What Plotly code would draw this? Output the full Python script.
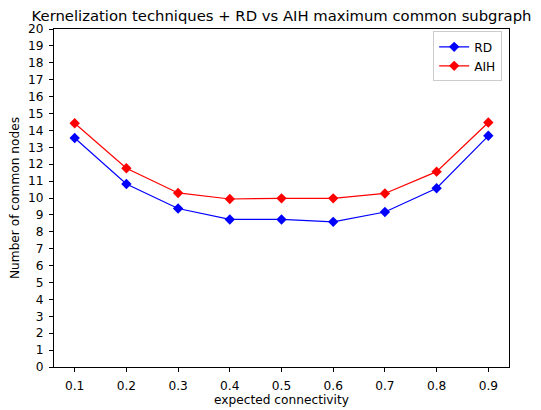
import plotly.graph_objects as go

connectivity = [0.1, 0.2, 0.3, 0.4, 0.5, 0.6, 0.7, 0.8, 0.9]
rd_nodes = [13.55, 10.83, 9.38, 8.73, 8.73, 8.59, 9.17, 10.58, 13.68]
aih_nodes = [14.42, 11.76, 10.30, 9.94, 9.98, 9.98, 10.27, 11.56, 14.47]
y_ticks = list(range(0, 21))
x_ticks = connectivity

FONT = "DejaVu Sans"
FS = 12.2
# the page body adds an 8px offset, so the figure is sized to fit the window
W, H = 533, 402
L, R, T, B = 46, 32, 21, 43

fig = go.Figure()
fig.add_trace(go.Scatter(
    x=connectivity, y=rd_nodes, name="RD", mode="lines+markers",
    line=dict(color="blue", width=1.2),
    marker=dict(symbol="diamond", size=8, color="blue"),
))
fig.add_trace(go.Scatter(
    x=connectivity, y=aih_nodes, name="AIH", mode="lines+markers",
    line=dict(color="red", width=1.2),
    marker=dict(symbol="diamond", size=8, color="red"),
))

axis_common = dict(
    showgrid=False, zeroline=False, showline=True, linecolor="black",
    linewidth=1, mirror=True, ticks="outside", ticklen=4, tickwidth=1,
    tickcolor="black", tickfont=dict(family=FONT, size=FS, color="black"),
    automargin=False,
)

fig.update_layout(
    width=W, height=H,
    margin=dict(l=L, r=R, t=T, b=B),
    paper_bgcolor="white", plot_bgcolor="white",
    font=dict(family=FONT, color="black"),
    title=dict(
        text="Kernelization techniques + RD vs AIH maximum common subgraph",
        x=(L + (W - R)) / 2 / W, xanchor="center", y=1 - 7.5 / H, yanchor="middle",
        font=dict(family=FONT, size=14.8, color="black"),
        automargin=False,
    ),
    xaxis=dict(
        range=[0.06, 0.94], tickvals=x_ticks,
        ticktext=[f"{v:.1f}" for v in x_ticks],
        ticklabelstandoff=3,
        title=dict(text="expected connectivity", font=dict(family=FONT, size=FS), standoff=2),
        **axis_common,
    ),
    yaxis=dict(
        range=[0, 20], tickvals=y_ticks,
        ticklabelstandoff=3,
        title=dict(text="Number of common nodes", font=dict(family=FONT, size=FS), standoff=5),
        **axis_common,
    ),
    legend=dict(
        x=0.985, y=0.993, xanchor="right", yanchor="top",
        bgcolor="rgba(255,255,255,0.8)", bordercolor="#cccccc", borderwidth=1,
        font=dict(family=FONT, size=FS, color="black"),
        tracegroupgap=0, itemwidth=30,
    ),
    showlegend=True,
)

fig.write_html("out.html")
